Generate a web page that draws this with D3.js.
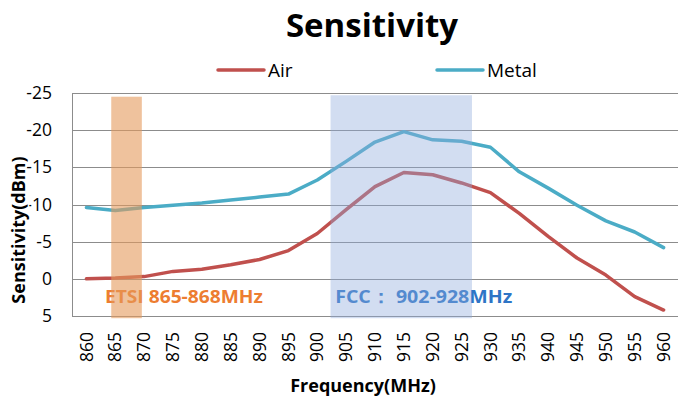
<!DOCTYPE html>
<html>
<head>
<meta charset="utf-8">
<script src="https://cdn.jsdelivr.net/npm/d3@7"></script>
<style>
    body { margin: 0; background: #fff; }
    text { font-family: "Open Sans", "Noto Sans", sans-serif; }
</style>
</head>
<body>
<svg class="chart"></svg>
<script>
'use strict';

var CHART_WIDTH = 690;
var CHART_HEIGHT = 399;
var PLOT = { left: 72, right: 678, top: 93, bottom: 316 };

// frequency categories (MHz)
var frequencies = [860, 865, 870, 875, 880, 885, 890, 895, 900, 905, 910,
    915, 920, 925, 930, 935, 940, 945, 950, 955, 960];

// sensitivity (dBm)
var airValues = [0.0, -0.1, -0.3, -1.0, -1.3, -1.9, -2.6, -3.8, -6.1, -9.3, -12.4,
    -14.3, -14.0, -12.9, -11.6, -8.8, -5.7, -2.8, -0.5, 2.4, 4.2];
var metalValues = [-9.6, -9.2, -9.6, -9.9, -10.2, -10.6, -11.0, -11.4, -13.3, -15.8, -18.4,
    -19.8, -18.7, -18.5, -17.7, -14.4, -12.2, -9.9, -7.8, -6.3, -4.2];

var yTicks = [-25, -20, -15, -10, -5, 0, 5];
var yTickLabels = ["-25", "-20", "-15", "-10", "-5", "0", "5"];

// highlighted bands: [from MHz, to MHz] and [top dBm, bottom dBm]
var etsiBand = [864.3, 869.6];
var etsiBandLevels = [-24.5, 5.3];
var fccBand = [902.3, 926.8];
var fccBandLevels = [-24.7, 5.3];

var etsiLabel = "ETSI 865-868MHz";
var fccLabel = "FCC\uFF1A 902-928MHz";
var labelAt = { etsi: 863.2, fcc: 903.1, level: 3.25 };

var AIR_COLOR = "#C0504D";
var METAL_COLOR = "#4BACC6";
var GRID_COLOR = "#8C8C8C";

var svg = d3.select(".chart")
    .attr("width", CHART_WIDTH)
    .attr("height", CHART_HEIGHT);

var xBand = d3.scaleBand()
    .domain(frequencies)
    .range([PLOT.left, PLOT.right])
    .padding(0);

var xPos = function (f) { return xBand(f) + xBand.bandwidth() / 2; };

// continuous frequency scale for the bands and labels
var xLin = d3.scaleLinear()
    .domain([frequencies[0], frequencies[frequencies.length - 1]])
    .range([xPos(frequencies[0]), xPos(frequencies[frequencies.length - 1])]);

var yScale = d3.scaleLinear()
    .domain([-25, 5])
    .range([PLOT.top, PLOT.bottom]);

renderTitle();
renderLegend();
renderGrid();
renderAxes();
renderLine(airValues, AIR_COLOR);
renderLine(metalValues, METAL_COLOR);
renderAnnotations();
renderBands();
renderAxisTitles();

/**
 * Chart title
 */
function renderTitle() {
    svg.append("text")
        .attr("x", 372)
        .attr("y", 37)
        .attr("text-anchor", "middle")
        .style("font-size", "33px")
        .style("font-weight", "bold")
        .text("Sensitivity");
}

/**
 * Legend above the plot
 */
function renderLegend() {
    var items = [
        { name: "Air", color: AIR_COLOR, x: 218 },
        { name: "Metal", color: METAL_COLOR, x: 437 }
    ];
    var g = svg.selectAll("g.legend")
        .data(items)
        .enter()
        .append("g")
        .attr("class", "legend")
        .attr("transform", function (d) { return "translate(" + d.x + ",70)"; });

    g.append("line")
        .attr("x1", 0).attr("x2", 46)
        .attr("stroke", function (d) { return d.color; })
        .attr("stroke-width", 3.5)
        .attr("stroke-linecap", "round");

    g.append("text")
        .attr("x", 50)
        .attr("y", 7)
        .style("font-size", "19px")
        .attr("fill", "#000")
        .text(function (d) { return d.name; });
}

/**
 * Horizontal gridlines and the vertical axis line
 */
function renderGrid() {
    svg.append("g")
        .selectAll("line")
        .data(yTicks)
        .enter()
        .append("line")
        .attr("x1", PLOT.left)
        .attr("x2", PLOT.right)
        .attr("y1", function (d) { return Math.round(yScale(d)) + 0.5; })
        .attr("y2", function (d) { return Math.round(yScale(d)) + 0.5; })
        .attr("stroke", GRID_COLOR)
        .attr("stroke-width", 1);

    svg.append("line")
        .attr("x1", PLOT.left + 0.5).attr("x2", PLOT.left + 0.5)
        .attr("y1", PLOT.top).attr("y2", PLOT.bottom)
        .attr("stroke", GRID_COLOR);
}

/**
 * Tick labels on both axes
 */
function renderAxes() {
    var yAxis = d3.axisLeft(yScale)
        .tickValues(yTicks)
        .tickSize(0)
        .tickPadding(20)
        .tickFormat(function (d, i) { return yTickLabels[i]; });

    var gy = svg.append("g")
        .attr("transform", "translate(" + PLOT.left + ",0)")
        .call(yAxis);
    gy.select(".domain").remove();
    gy.selectAll("text")
        .style("font-size", "17.5px")
        .style("font-family", "'Open Sans', sans-serif")
        .attr("fill", "#000");

    // band scale ticks sit at the band centres
    var xAxis = d3.axisBottom(xBand)
        .tickSize(0)
        .tickPadding(0);

    var gx = svg.append("g")
        .attr("transform", "translate(0," + PLOT.bottom + ")")
        .call(xAxis);
    gx.select(".domain").remove();
    gx.selectAll("text")
        .attr("transform", "rotate(-90)")
        .attr("x", -16)
        .attr("y", 0)
        .attr("dy", "0.35em")
        .attr("text-anchor", "end")
        .style("font-size", "17.5px")
        .style("font-family", "'Open Sans', sans-serif")
        .attr("fill", "#000");
}

/**
 * Draw one series line
 * @param {Array} values series values
 * @param {String} color stroke colour
 */
function renderLine(values, color) {
    var line = d3.line()
        .x(function (d, i) { return xPos(frequencies[i]); })
        .y(function (d) { return yScale(d); });

    svg.append("path")
        .datum(values)
        .attr("d", line)
        .attr("fill", "none")
        .attr("stroke", color)
        .attr("stroke-width", 3.5)
        .attr("stroke-linejoin", "round")
        .attr("stroke-linecap", "round");
}

/**
 * Band labels inside the plot
 */
function renderAnnotations() {
    svg.append("text")
        .attr("x", xLin(labelAt.etsi))
        .attr("y", yScale(labelAt.level))
        .attr("fill", "#ED7D31")
        .attr("textLength", 158)
        .attr("lengthAdjust", "spacingAndGlyphs")
        .style("font-size", "18.5px")
        .style("font-weight", "bold")
        .text(etsiLabel);

    svg.append("text")
        .attr("x", xLin(labelAt.fcc))
        .attr("y", yScale(labelAt.level))
        .attr("fill", "#2E75C6")
        .attr("textLength", 177)
        .attr("lengthAdjust", "spacingAndGlyphs")
        .style("font-size", "18.5px")
        .style("font-weight", "bold")
        .text(fccLabel);
}

/**
 * Semi transparent bands drawn over the lines
 */
function renderBands() {
    var bands = [
        { range: etsiBand, levels: etsiBandLevels, fill: "#E59A5C", opacity: 0.6 },
        { range: fccBand, levels: fccBandLevels, fill: "#8EAADB", opacity: 0.4 }
    ];
    svg.append("g")
        .selectAll("rect")
        .data(bands)
        .enter()
        .append("rect")
        .attr("x", function (d) { return xLin(d.range[0]); })
        .attr("width", function (d) { return xLin(d.range[1]) - xLin(d.range[0]); })
        .attr("y", function (d) { return yScale(d.levels[0]); })
        .attr("height", function (d) { return yScale(d.levels[1]) - yScale(d.levels[0]); })
        .attr("fill", function (d) { return d.fill; })
        .attr("fill-opacity", function (d) { return d.opacity; });
}

/**
 * Axis titles
 */
function renderAxisTitles() {
    svg.append("text")
        .attr("x", 363)
        .attr("y", 392)
        .attr("text-anchor", "middle")
        .style("font-size", "18px")
        .style("font-weight", "bold")
        .text("Frequency(MHz)");

    svg.append("text")
        .attr("transform", "translate(25,230) rotate(-90)")
        .attr("text-anchor", "middle")
        .style("font-size", "18px")
        .style("font-weight", "bold")
        .style("paint-order", "stroke")
        .attr("stroke", "#fff")
        .attr("stroke-width", 3)
        .text("Sensitivity(dBm)");
}
</script>
</body>
</html>
